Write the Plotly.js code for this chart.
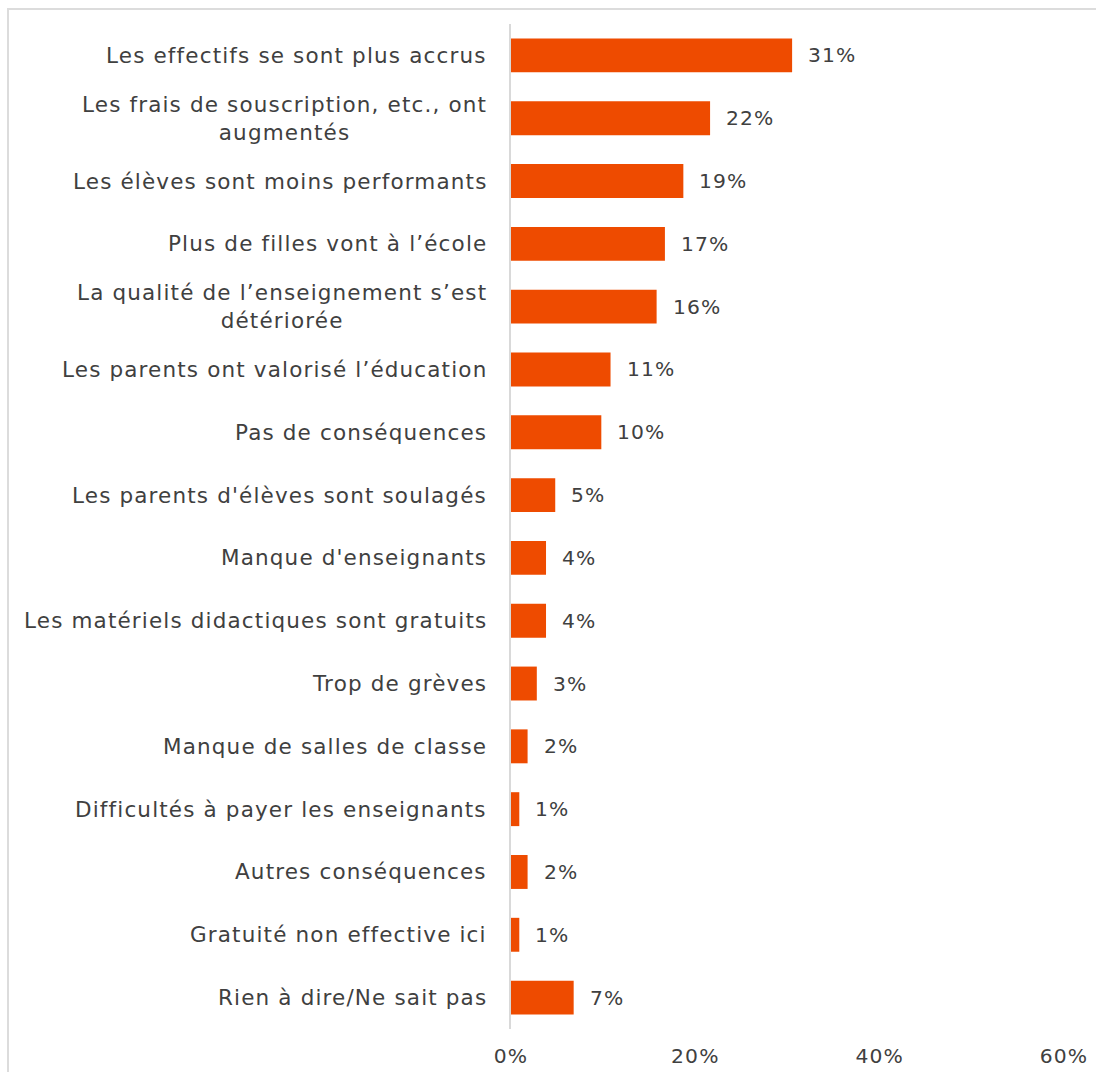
<!DOCTYPE html>
<html>
<head>
<meta charset="utf-8">
<script src="https://cdn.plot.ly/plotly-3.0.1.min.js"></script>
<style>
  html, body { margin: 0; padding: 0; background: #ffffff; }
  #wrap { position: relative; width: 1096px; height: 1072px; overflow: hidden; }
  #frame { position: absolute; left: 7px; top: 8px; width: 1100px; height: 1100px;
           border-top: 2px solid #dcdcdc; border-left: 2px solid #dcdcdc; box-sizing: border-box; }
  #chart { position: absolute; left: 0; top: 0; width: 1096px; height: 1072px; }
  svg text { letter-spacing: 1.15px; }
</style>
</head>
<body>
<div id="wrap">
  <div id="frame"></div>
  <div id="chart"></div>
</div>
<script>
const categories = [
  "Les effectifs se sont plus accrus",
  "Les frais de souscription, etc., ont<br>augmentés",
  "Les élèves sont moins performants",
  "Plus de filles vont à l’école",
  "La qualité de l’enseignement s’est<br>détériorée",
  "Les parents ont valorisé l’éducation",
  "Pas de conséquences",
  "Les parents d'élèves sont soulagés",
  "Manque d'enseignants",
  "Les matériels didactiques sont gratuits",
  "Trop de grèves",
  "Manque de salles de classe",
  "Difficultés à payer les enseignants",
  "Autres conséquences",
  "Gratuité non effective ici",
  "Rien à dire/Ne sait pas"
];
const values = [30.5, 21.6, 18.7, 16.7, 15.8, 10.8, 9.8, 4.8, 3.8, 3.8, 2.8, 1.8, 0.9, 1.8, 0.9, 6.8];
const valueLabels = ["31%", "22%", "19%", "17%", "16%", "11%", "10%", "5%", "4%", "4%", "3%", "2%", "1%", "2%", "1%", "7%"];
const xTickVals = [0, 20, 40, 60];
const xTickText = ["0%", "20%", "40%", "60%"];

const FONT = "DejaVu Sans, Liberation Sans, sans-serif";
const TXT = "#404040";
const BAR = "#EE4B00";
const FS = 20.3;
const FS_CAT = 21.5;

const annotations = [];
categories.forEach((c, i) => {
  annotations.push({
    xref: "paper", yref: "y", x: 0, y: c, text: c,
    xanchor: "right", yanchor: "middle", align: "center", xshift: -22,
    showarrow: false, font: { family: FONT, size: FS_CAT, color: TXT }
  });
  annotations.push({
    xref: "x", yref: "y", x: values[i], y: c, text: valueLabels[i],
    xanchor: "left", yanchor: "middle", xshift: 14,
    showarrow: false, font: { family: FONT, size: FS, color: TXT }
  });
});

const trace = {
  type: "bar", orientation: "h",
  x: values, y: categories,
  marker: { color: BAR, line: { width: 0 } },
  hoverinfo: "skip"
};

const layout = {
  width: 1096, height: 1072,
  margin: { l: 511, r: 32, t: 24, b: 43 },
  paper_bgcolor: "rgba(0,0,0,0)",
  plot_bgcolor: "rgba(0,0,0,0)",
  showlegend: false,
  bargap: 0.46,
  font: { family: FONT, size: FS, color: TXT },
  xaxis: {
    range: [0, 60], tickvals: xTickVals, ticktext: xTickText,
    showgrid: false, zeroline: false, showline: false, ticks: "",
    ticklabelstandoff: 13,
    tickfont: { family: FONT, size: FS, color: TXT }, fixedrange: true
  },
  yaxis: {
    type: "category", autorange: "reversed",
    showticklabels: false, showgrid: false, zeroline: false,
    showline: true, linecolor: "#d9d9d9", linewidth: 2, ticks: "", fixedrange: true
  },
  annotations: annotations
};

Plotly.newPlot("chart", [trace], layout, { displayModeBar: false, staticPlot: true });
</script>
</body>
</html>
